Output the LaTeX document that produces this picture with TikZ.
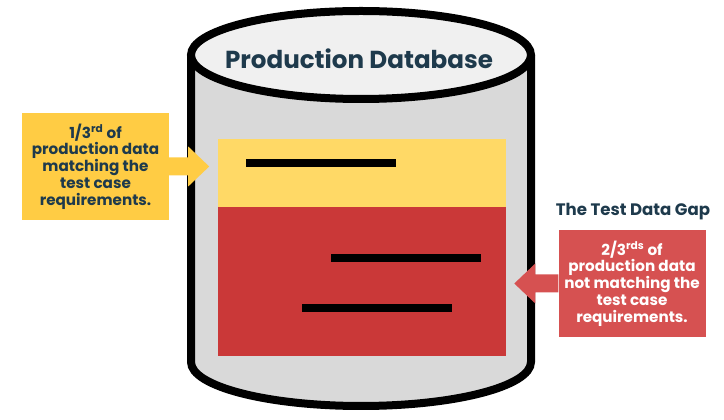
\documentclass[tikz,border=0pt]{standalone}
\usepackage{fontspec}
\setmainfont{Poppins}
\definecolor{navy}{HTML}{1E3A4C}
\definecolor{cylgrey}{HTML}{D9D9D9}
\definecolor{toplight}{HTML}{F0F0F0}
\definecolor{slotyellow}{HTML}{FFD966}
\definecolor{slotred}{HTML}{CA3838}
\definecolor{noteyellow}{HTML}{FFCC44}
\definecolor{notered}{HTML}{D65151}
\tikzset{
  note/.style={minimum width=147pt, minimum height=107pt, inner sep=0pt, align=center,
    font=\bfseries\fontsize{15.2}{16.8}\selectfont},
  bar/.style={line width=8pt},
}
\begin{document}
\begin{tikzpicture}[x=1pt,y=1pt]
\useasboundingbox (0,0) rectangle (724,420);
\filldraw[fill=cylgrey, line width=8pt] (191,365) -- (191,58)
  arc[start angle=180, end angle=360, x radius=170, y radius=44] -- (531,365);
\filldraw[fill=toplight, line width=8pt] (361,365) ellipse[x radius=170, y radius=44];
\node[text=navy, font=\bfseries\fontsize{24.6}{28}\selectfont] (dbname) at (359,361) {Production Database};

\fill[slotyellow] (218,281) rectangle (506,213);
\fill[slotred] (218,213) rectangle (506,64);
\draw[bar] (246,257) -- (396,257);
\draw[bar] (331,162) -- (481,162);
\draw[bar] (302,112) -- (452,112);

\node[note, fill=noteyellow, text=navy] (leftnote) at (95.5,253.5)
  {1/3\textsuperscript{rd} of\\production data\\matching the\\test case\\requirements.};
\fill[noteyellow] ([yshift=9]leftnote.east) -- ++(19,0) -- ++(0,11) -- ++(21,-20)
  -- ++(-21,-20) -- ++(0,11) -- ++(-19,0) -- cycle;

\node[note, fill=notered, text=white] (rightnote) at (632,136.5)
  {2/3\textsuperscript{rds} of\\production data\\not matching the\\test case\\requirements.};
\fill[notered] ([yshift=9]rightnote.west) -- ++(-23,0) -- ++(0,11) -- ++(-21,-20)
  -- ++(21,-20) -- ++(0,11) -- ++(23,0) -- cycle;
\node[text=navy, font=\bfseries\fontsize{16.6}{19}\selectfont] (gaptitle) at (633,208) {The Test Data Gap};
\end{tikzpicture}
\end{document}
